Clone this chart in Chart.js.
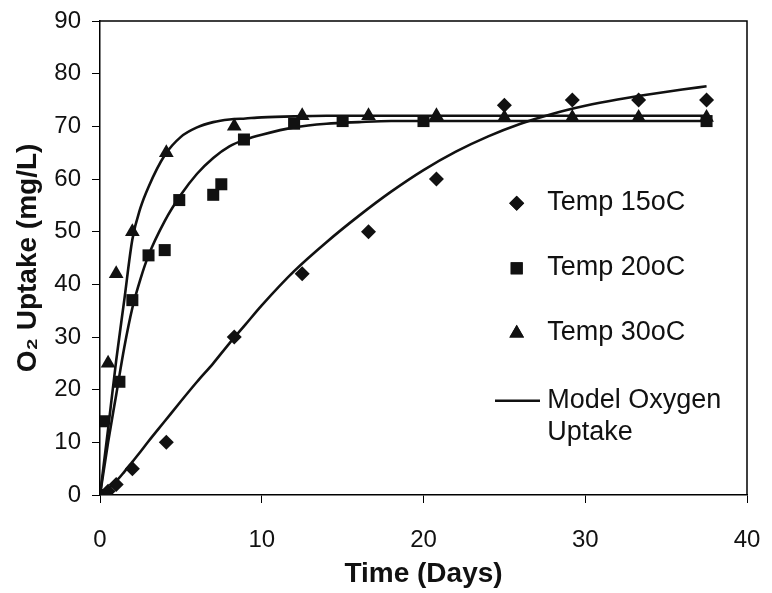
<!DOCTYPE html>
<html>
<head>
<meta charset="utf-8">
<script src="https://cdn.jsdelivr.net/npm/chart.js@4"></script>
<style>
  html, body { margin: 0; padding: 0; background: #fff; }
  #wrap { width: 772px; height: 593px; }
</style>
</head>
<body>
<div id="wrap"><canvas id="c" width="772" height="593"></canvas></div>
<script>
// ---- data ----
const days15 = [0, 0.5, 1, 2, 4.1, 8.3, 12.5, 16.6, 20.8, 25, 29.2, 33.3, 37.5];
const o2_15  = [0, 0.7, 2, 5, 10, 30, 42, 50, 60, 74, 75, 75, 75];

const days20 = [0, 0.2, 1.2, 2, 3, 4, 4.9, 7, 7.5, 8.9, 12, 15, 20, 37.5];
const o2_20  = [0, 14, 21.5, 37, 45.5, 46.5, 56, 57, 59, 67.5, 70.5, 71, 71, 71];

const days30 = [0, 0.5, 1, 2, 4.1, 8.3, 12.5, 16.6, 20.8, 25, 29.2, 33.3, 37.5];
const o2_30  = [0, 25, 42, 50, 65, 70, 72, 72, 72, 71.7, 71.7, 71.7, 71.7];

const modelDays = [0, 0.5, 1, 1.5, 2, 2.5, 3, 4, 5, 6, 7, 8, 9, 10, 12, 14, 16, 18, 20, 22, 24, 26, 28, 30, 32, 34, 36, 37.5];
const model15 = [0, 1.2, 2.6, 4.4, 6.3, 8.2, 10.2, 14, 17.8, 21.5, 25, 28.8, 32.4, 36, 42.5, 48, 53, 57.6, 61.7, 65.2, 68.1, 70.5, 72.4, 73.9, 75.1, 76.1, 77, 77.6];
const model20 = [0, 10, 19, 28, 35.5, 41, 45.5, 52, 57, 61, 64, 66.2, 67.5, 68.4, 69.8, 70.5, 70.8, 71, 71, 71, 71, 71, 71, 71, 71, 71, 71, 71];
const model30 = [0, 12.5, 25.5, 37, 48.5, 54.5, 58.5, 64.5, 68, 69.8, 70.8, 71.3, 71.5, 71.7, 71.9, 72, 72, 72, 72, 72, 72, 72, 72, 72, 72, 72, 72, 72];

const xTicks = [0, 10, 20, 30, 40];
const yTicks = [0, 10, 20, 30, 40, 50, 60, 70, 80, 90];

const seriesLabels = ['Temp 15oC', 'Temp 20oC', 'Temp 30oC'];
const modelLabel = ['Model Oxygen', 'Uptake'];
const xTitle = 'Time (Days)';
const yTitle = 'O\u2082 Uptake (mg/L)';

// ---- helpers ----
const pts = (xs, ys) => xs.map((x, i) => ({ x: x, y: ys[i] }));
const INK = '#111';
const FONT = 'Arial, "Liberation Sans", sans-serif';

const markerDs = (label, xs, ys, style, r) => ({
  label: label, data: pts(xs, ys), showLine: false,
  pointStyle: style, pointRadius: r, pointHoverRadius: r,
  backgroundColor: INK, borderColor: INK, borderWidth: 0, order: 1
});
const modelDs = (xs, ys) => ({
  label: 'Model Oxygen Uptake', data: pts(xs, ys), showLine: true,
  pointRadius: 0, borderColor: INK, borderWidth: 2.6, fill: false,
  cubicInterpolationMode: 'monotone', order: 2
});

const boxPlugin = {
  id: 'box',
  afterDatasetsDraw(chart) {
    const { ctx, chartArea: a } = chart;
    ctx.save();
    ctx.strokeStyle = '#000';
    ctx.lineWidth = 1.5;
    ctx.beginPath();
    ctx.moveTo(a.left, a.top); ctx.lineTo(a.right, a.top); ctx.lineTo(a.right, a.bottom);
    ctx.stroke();
    ctx.restore();
  }
};

const legendPlugin = {
  id: 'customLegend',
  afterDraw(chart) {
    const { ctx, chartArea: a } = chart;
    const mx = a.left + 416.7, tx = a.left + 447.3;
    const rows = [
      { ds: 0, style: 'rectRot', r: 7.5, my: 182.3, by: 189 },
      { ds: 1, style: 'rect', r: 8.5, my: 247.3, by: 254 },
      { ds: 2, style: 'triangle', r: 8.5, my: 312.3, by: 319 }
    ];
    ctx.save();
    ctx.font = '27px ' + FONT;
    ctx.textBaseline = 'alphabetic';
    ctx.textAlign = 'left';
    rows.forEach(row => {
      ctx.fillStyle = INK; ctx.strokeStyle = INK; ctx.lineWidth = 0;
      Chart.helpers.drawPoint(ctx, { pointStyle: row.style, radius: row.r, borderWidth: 0 }, mx, a.top + row.my);
      ctx.fill();
      ctx.fillStyle = INK;
      ctx.fillText(chart.data.datasets[row.ds].label, tx, a.top + row.by);
    });
    ctx.strokeStyle = INK; ctx.lineWidth = 2.6;
    ctx.beginPath();
    ctx.moveTo(a.left + 395, a.top + 379.7);
    ctx.lineTo(a.left + 440, a.top + 379.7);
    ctx.stroke();
    ctx.fillStyle = INK;
    ctx.fillText(modelLabel[0], tx, a.top + 387.3);
    ctx.fillText(modelLabel[1], tx, a.top + 419);
    ctx.restore();
  }
};

new Chart(document.getElementById('c'), {
  type: 'scatter',
  data: {
    datasets: [
      markerDs(seriesLabels[0], days15, o2_15, 'rectRot', 7.5),
      markerDs(seriesLabels[1], days20, o2_20, 'rect', 8.5),
      markerDs(seriesLabels[2], days30, o2_30, 'triangle', 8.5),
      modelDs(modelDays, model15),
      modelDs(modelDays, model20),
      modelDs(modelDays, model30)
    ]
  },
  options: {
    responsive: false,
    animation: false,
    devicePixelRatio: 1,
    layout: { padding: { top: 21, right: 25, left: 0, bottom: 0 } },
    plugins: { legend: { display: false }, tooltip: { enabled: false } },
    scales: {
      x: {
        type: 'linear', min: 0, max: 40,
        afterFit(s) { s.height = 98; s.paddingLeft = 0; s.paddingRight = 0; },
        afterBuildTicks(s) { s.ticks = xTicks.map(v => ({ value: v })); },
        ticks: { color: INK, font: { family: FONT, size: 24 }, padding: 23, maxRotation: 0 },
        grid: { drawOnChartArea: false, drawTicks: true, tickLength: 8, color: '#000', lineWidth: 1 },
        border: { display: true, color: '#000', width: 1.5 },
        title: { display: true, text: xTitle, color: INK, font: { family: FONT, size: 28, weight: 'bold' }, padding: { top: 0, bottom: 2 } }
      },
      y: {
        type: 'linear', min: 0, max: 90,
        afterFit(s) { s.width = 100; s.paddingTop = 0; s.paddingBottom = 0; },
        afterBuildTicks(s) { s.ticks = yTicks.map(v => ({ value: v })); },
        ticks: { color: INK, font: { family: FONT, size: 24 }, padding: 11 },
        grid: { drawOnChartArea: false, drawTicks: true, tickLength: 8, color: '#000', lineWidth: 1 },
        border: { display: true, color: '#000', width: 1.5 },
        title: { display: true, text: yTitle, color: INK, font: { family: FONT, size: 28, weight: 'bold' }, padding: { top: 11, bottom: 0 } }
      }
    }
  },
  plugins: [boxPlugin, legendPlugin]
});
</script>
</body>
</html>
